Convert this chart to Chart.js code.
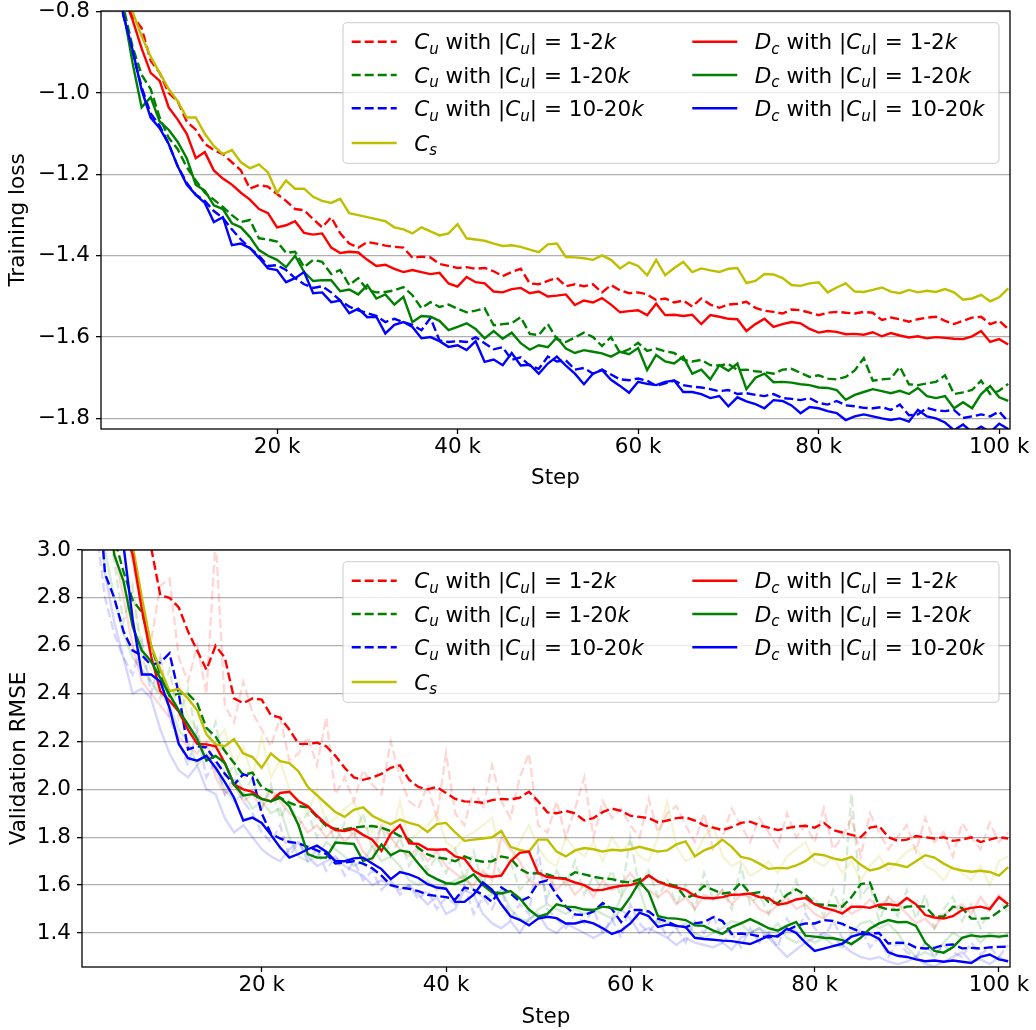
<!DOCTYPE html>
<html>
<head>
<meta charset="utf-8">
<script src="https://cdn.jsdelivr.net/npm/chart.js@4.4.1/dist/chart.umd.min.js"></script>
<style>
    html, body { margin: 0; padding: 0; background: #fff; }
    #wrap { position: relative; width: 1036px; height: 1030px; }
    canvas { position: absolute; left: 0; }
    #loss-chart { top: 0; }
    #rmse-chart { top: 520px; }
</style>
</head>
<body>
<div id="wrap">
    <canvas id="loss-chart" width="1036" height="500"></canvas>
    <canvas id="rmse-chart" width="1036" height="510"></canvas>
</div>
<script>
    "use strict";

    // training step, in thousands
    var steps = [];
    for (var s = 1; s <= 101; s++) steps.push(s);

    var stepTicks = [20, 40, 60, 80, 100];
    var lossTicks = [-1.8, -1.6, -1.4, -1.2, -1.0, -0.8];
    var rmseTicks = [1.4, 1.6, 1.8, 2.0, 2.2, 2.4, 2.6, 2.8, 3.0];

    /* ---- training loss ---- */
    var lossCu12 = [
        -0.55, -0.65, -0.74, -0.81, -0.84, -0.92, -0.95, -1.0, -1.02, -1.07,
        -1.09, -1.125, -1.14, -1.15, -1.17, -1.19, -1.235, -1.226, -1.23, -1.248,
        -1.265, -1.285, -1.288, -1.31, -1.33, -1.305, -1.345, -1.37, -1.38, -1.366,
        -1.37, -1.375, -1.378, -1.38, -1.405, -1.402, -1.404, -1.42, -1.425, -1.43,
        -1.428, -1.432, -1.43, -1.438, -1.45, -1.44, -1.432, -1.468, -1.47, -1.462,
        -1.454, -1.475, -1.47, -1.475, -1.47, -1.49, -1.472, -1.485, -1.492, -1.49,
        -1.495, -1.509, -1.505, -1.515, -1.51, -1.525, -1.505, -1.52, -1.528, -1.52,
        -1.518, -1.513, -1.528, -1.535, -1.538, -1.542, -1.532, -1.534, -1.54, -1.546,
        -1.54, -1.538, -1.54, -1.542, -1.538, -1.54, -1.558, -1.552, -1.556, -1.562,
        -1.556, -1.552, -1.55, -1.56, -1.568, -1.56, -1.552, -1.55, -1.568, -1.56, -1.58
    ];
    var lossCu120 = [
        -0.55, -0.68, -0.79, -0.886, -0.955, -0.99, -1.06, -1.11, -1.138, -1.182,
        -1.215, -1.245, -1.262, -1.28, -1.30, -1.317, -1.312, -1.357, -1.36, -1.365,
        -1.393, -1.39, -1.428, -1.41, -1.415, -1.445, -1.435, -1.472, -1.455, -1.484,
        -1.49, -1.489, -1.485, -1.477, -1.497, -1.529, -1.514, -1.526, -1.52, -1.53,
        -1.539, -1.535, -1.529, -1.571, -1.568, -1.566, -1.551, -1.592, -1.595, -1.568,
        -1.605, -1.612, -1.601, -1.589, -1.6, -1.622, -1.60, -1.639, -1.63, -1.614,
        -1.634, -1.628, -1.635, -1.639, -1.656, -1.66, -1.656, -1.669, -1.67, -1.666,
        -1.681, -1.68, -1.684, -1.686, -1.69, -1.68, -1.678, -1.688, -1.698, -1.694,
        -1.702, -1.704, -1.698, -1.682, -1.652, -1.707, -1.704, -1.702, -1.673, -1.716,
        -1.718, -1.714, -1.71, -1.694, -1.74, -1.736, -1.73, -1.707, -1.74, -1.732, -1.715
    ];
    var lossCu1020 = [
        -0.55, -0.7, -0.81, -0.9, -0.985, -1.05, -1.08, -1.125, -1.18, -1.221,
        -1.25, -1.265, -1.29, -1.307, -1.335, -1.36, -1.381, -1.40, -1.425, -1.423,
        -1.435, -1.455, -1.47, -1.479, -1.475, -1.49, -1.51, -1.525, -1.534, -1.541,
        -1.548, -1.563, -1.555, -1.563, -1.57, -1.583, -1.553, -1.608, -1.612, -1.61,
        -1.612, -1.60, -1.615, -1.63, -1.625, -1.656, -1.65, -1.67, -1.678, -1.648,
        -1.66, -1.657, -1.68, -1.676, -1.69, -1.68, -1.692, -1.704, -1.706, -1.702,
        -1.707, -1.72, -1.714, -1.707, -1.718, -1.722, -1.724, -1.728, -1.733, -1.73,
        -1.74, -1.738, -1.742, -1.745, -1.74, -1.75, -1.752, -1.755, -1.75, -1.762,
        -1.766, -1.757, -1.768, -1.77, -1.774, -1.775, -1.772, -1.779, -1.766, -1.792,
        -1.79, -1.774, -1.78, -1.782, -1.779, -1.799, -1.795, -1.79, -1.795, -1.783, -1.808
    ];
    var lossCs = [
        -0.55, -0.65, -0.73, -0.80, -0.86, -0.91, -0.95, -0.99, -1.02, -1.06,
        -1.06, -1.10, -1.13, -1.15, -1.14, -1.17, -1.185, -1.175, -1.195, -1.245,
        -1.215, -1.235, -1.235, -1.255, -1.265, -1.27, -1.26, -1.295, -1.30, -1.305,
        -1.31, -1.315, -1.33, -1.335, -1.345, -1.33, -1.34, -1.35, -1.345, -1.322,
        -1.357, -1.36, -1.363, -1.37, -1.376, -1.374, -1.378, -1.385, -1.391, -1.372,
        -1.37, -1.403, -1.404, -1.406, -1.41, -1.399, -1.41, -1.431, -1.416, -1.425,
        -1.448, -1.41, -1.448, -1.43, -1.415, -1.44, -1.431, -1.436, -1.44, -1.432,
        -1.43, -1.467, -1.462, -1.445, -1.446, -1.455, -1.472, -1.474, -1.468, -1.465,
        -1.49, -1.478, -1.468, -1.488, -1.489, -1.484, -1.478, -1.488, -1.492, -1.484,
        -1.49, -1.486, -1.489, -1.482, -1.49, -1.508, -1.505, -1.496, -1.512, -1.502, -1.48
    ];
    var lossDc12 = [
        -0.55, -0.66, -0.76, -0.82, -0.89, -0.95, -0.97, -1.035, -1.065, -1.10,
        -1.16, -1.145, -1.19, -1.21, -1.225, -1.245, -1.262, -1.285, -1.295, -1.33,
        -1.325, -1.315, -1.344, -1.348, -1.345, -1.38, -1.393, -1.39, -1.392, -1.41,
        -1.425, -1.422, -1.432, -1.44, -1.435, -1.44, -1.445, -1.442, -1.468, -1.476,
        -1.452, -1.465, -1.468, -1.488, -1.49, -1.482, -1.479, -1.492, -1.488, -1.50,
        -1.498, -1.495, -1.521, -1.51, -1.515, -1.504, -1.52, -1.539, -1.536, -1.534,
        -1.546, -1.518, -1.546, -1.545, -1.548, -1.545, -1.568, -1.546, -1.55, -1.555,
        -1.556, -1.585, -1.568, -1.555, -1.575, -1.568, -1.563, -1.566, -1.58, -1.589,
        -1.585, -1.587, -1.593, -1.592, -1.594, -1.588, -1.598, -1.59, -1.596, -1.601,
        -1.598, -1.603, -1.6, -1.602, -1.604, -1.605, -1.598, -1.585, -1.612, -1.605, -1.618
    ];
    var lossDc120 = [
        -0.55, -0.7, -0.8, -0.926, -1.035, -1.01, -1.07, -1.09, -1.12, -1.16,
        -1.225, -1.24, -1.276, -1.285, -1.32, -1.33, -1.354, -1.386, -1.40, -1.41,
        -1.428, -1.40, -1.44, -1.462, -1.46, -1.46, -1.487, -1.483, -1.495, -1.472,
        -1.505, -1.495, -1.52, -1.501, -1.563, -1.548, -1.55, -1.56, -1.583, -1.575,
        -1.566, -1.58, -1.603, -1.585, -1.604, -1.589, -1.615, -1.631, -1.62, -1.625,
        -1.601, -1.628, -1.639, -1.632, -1.636, -1.64, -1.648, -1.636, -1.642, -1.627,
        -1.681, -1.644, -1.66, -1.665, -1.648, -1.69, -1.68, -1.704, -1.669, -1.683,
        -1.665, -1.728, -1.70, -1.69, -1.711, -1.71, -1.712, -1.716, -1.718, -1.724,
        -1.725, -1.73, -1.754, -1.742, -1.735, -1.728, -1.733, -1.738, -1.732, -1.74,
        -1.725, -1.745, -1.75, -1.745, -1.775, -1.76, -1.775, -1.74, -1.72, -1.748, -1.757
    ];
    var lossDc1020 = [
        -0.55, -0.7, -0.81, -0.894, -0.992, -1.06, -1.086, -1.125, -1.18, -1.225,
        -1.25, -1.27, -1.317, -1.305, -1.374, -1.37, -1.381, -1.405, -1.431, -1.435,
        -1.465, -1.455, -1.44, -1.492, -1.49, -1.514, -1.51, -1.541, -1.53, -1.551,
        -1.55, -1.591, -1.57, -1.563, -1.575, -1.603, -1.6, -1.61, -1.624, -1.62,
        -1.632, -1.61, -1.661, -1.655, -1.669, -1.639, -1.67, -1.668, -1.69, -1.665,
        -1.648, -1.67, -1.69, -1.716, -1.69, -1.681, -1.705, -1.72, -1.737, -1.71,
        -1.715, -1.718, -1.71, -1.707, -1.735, -1.735, -1.74, -1.75, -1.745, -1.77,
        -1.748, -1.758, -1.765, -1.775, -1.755, -1.757, -1.768, -1.787, -1.772, -1.775,
        -1.782, -1.787, -1.804, -1.795, -1.79, -1.795, -1.8, -1.804, -1.8, -1.808,
        -1.779, -1.795, -1.8, -1.81, -1.829, -1.815, -1.834, -1.82, -1.834, -1.813, -1.826
    ];

    /* ---- validation RMSE, smoothed ---- */
    var rmseCu12 = [
        4.5, 4.2, 3.9, 3.6, 3.4, 3.25, 3.12, 3.01, 2.81, 2.80,
        2.76, 2.66, 2.58, 2.50, 2.60, 2.55, 2.38, 2.36, 2.38, 2.375,
        2.31, 2.30, 2.25, 2.19, 2.19, 2.195, 2.18, 2.14, 2.09, 2.05,
        2.04, 2.05, 2.065, 2.09, 2.10, 2.04, 2.01, 2.00, 2.01, 1.985,
        1.96, 1.95, 1.948, 1.944, 1.955, 1.96, 1.958, 1.965, 1.99, 1.95,
        1.904, 1.90, 1.91, 1.90, 1.87, 1.88, 1.905, 1.92, 1.91, 1.89,
        1.885, 1.88, 1.862, 1.87, 1.88, 1.883, 1.87, 1.85, 1.84, 1.83,
        1.842, 1.86, 1.865, 1.85, 1.84, 1.83, 1.838, 1.845, 1.848, 1.84,
        1.86, 1.83, 1.82, 1.81, 1.80, 1.84, 1.847, 1.80, 1.785, 1.79,
        1.805, 1.80, 1.795, 1.80, 1.785, 1.79, 1.80, 1.78, 1.79, 1.80, 1.795
    ];
    var rmseCu120 = [
        4.6, 4.0, 3.5, 3.05, 2.91, 2.79, 2.74, 2.60, 2.48, 2.39,
        2.40, 2.40, 2.36, 2.257, 2.22, 2.16, 2.11, 2.06, 2.07, 2.01,
        1.99, 1.965, 1.945, 1.93, 1.925, 1.885, 1.847, 1.835, 1.833, 1.84,
        1.845, 1.847, 1.84, 1.826, 1.805, 1.79, 1.755, 1.728, 1.715, 1.71,
        1.70, 1.72, 1.705, 1.698, 1.70, 1.72, 1.712, 1.668, 1.648, 1.65,
        1.645, 1.632, 1.628, 1.654, 1.645, 1.635, 1.628, 1.625, 1.615, 1.611,
        1.625, 1.64, 1.615, 1.605, 1.597, 1.546, 1.56, 1.597, 1.58, 1.565,
        1.57, 1.611, 1.565, 1.57, 1.53, 1.525, 1.56, 1.582, 1.56, 1.52,
        1.518, 1.515, 1.51, 1.55, 1.604, 1.611, 1.51, 1.498, 1.496, 1.51,
        1.512, 1.51, 1.47, 1.468, 1.51, 1.505, 1.46, 1.46, 1.462, 1.49, 1.518
    ];
    var rmseCu1020 = [
        4.3, 3.4, 2.9, 2.80, 2.66, 2.58, 2.56, 2.52, 2.53, 2.569,
        2.40, 2.167, 2.18, 2.175, 2.12, 2.065, 2.02, 2.063, 2.05, 1.90,
        1.815, 1.795, 1.78, 1.775, 1.76, 1.745, 1.73, 1.69, 1.695, 1.70,
        1.69, 1.67, 1.64, 1.60, 1.59, 1.585, 1.575, 1.56, 1.555, 1.55,
        1.54, 1.59, 1.58, 1.56, 1.53, 1.59, 1.565, 1.532, 1.55, 1.61,
        1.62, 1.56, 1.51, 1.478, 1.475, 1.49, 1.525, 1.50, 1.446, 1.496,
        1.496, 1.49, 1.46, 1.448, 1.43, 1.424, 1.44, 1.446, 1.466, 1.45,
        1.396, 1.398, 1.394, 1.386, 1.382, 1.389, 1.41, 1.43, 1.44, 1.44,
        1.454, 1.45, 1.438, 1.42, 1.405, 1.398, 1.40, 1.356, 1.36, 1.358,
        1.339, 1.335, 1.338, 1.35, 1.352, 1.336, 1.338, 1.335, 1.34, 1.342, 1.343
    ];
    var rmseCs = [
        4.8, 4.3, 3.9, 3.5, 3.2, 3.02, 2.80, 2.60, 2.50, 2.41,
        2.42, 2.38, 2.33, 2.23, 2.188, 2.18, 2.21, 2.15, 2.135, 2.09,
        2.15, 2.118, 2.11, 2.075, 2.01, 1.975, 1.94, 1.905, 1.885, 1.915,
        1.925, 1.89, 1.87, 1.855, 1.874, 1.86, 1.85, 1.822, 1.855, 1.86,
        1.82, 1.785, 1.79, 1.795, 1.80, 1.826, 1.76, 1.747, 1.74, 1.79,
        1.79, 1.74, 1.72, 1.745, 1.755, 1.75, 1.74, 1.748, 1.745, 1.75,
        1.76, 1.75, 1.74, 1.745, 1.77, 1.783, 1.72, 1.745, 1.76, 1.79,
        1.76, 1.718, 1.71, 1.69, 1.668, 1.672, 1.67, 1.682, 1.70, 1.73,
        1.725, 1.712, 1.704, 1.718, 1.685, 1.661, 1.67, 1.69, 1.685, 1.675,
        1.70, 1.725, 1.715, 1.69, 1.67, 1.661, 1.656, 1.66, 1.655, 1.64, 1.675
    ];
    var rmseDc12 = [
        4.5, 4.0, 3.6, 3.3, 3.1, 2.98, 2.75, 2.556, 2.41, 2.37,
        2.325, 2.25, 2.19, 2.188, 2.18, 2.11, 2.02, 2.0, 1.99, 1.96,
        1.95, 1.985, 1.99, 1.95, 1.93, 1.89, 1.854, 1.83, 1.826, 1.835,
        1.81, 1.79, 1.743, 1.815, 1.85, 1.775, 1.772, 1.75, 1.748, 1.75,
        1.72, 1.71, 1.66, 1.639, 1.635, 1.64, 1.70, 1.735, 1.74, 1.65,
        1.634, 1.63, 1.625, 1.611, 1.60, 1.578, 1.58, 1.59, 1.597, 1.60,
        1.611, 1.64, 1.615, 1.60, 1.59, 1.58, 1.555, 1.546, 1.545, 1.55,
        1.56, 1.561, 1.565, 1.55, 1.546, 1.518, 1.525, 1.54, 1.546, 1.52,
        1.505, 1.496, 1.482, 1.51, 1.51, 1.505, 1.518, 1.52, 1.515, 1.546,
        1.52, 1.475, 1.465, 1.46, 1.47, 1.496, 1.505, 1.51, 1.50, 1.55, 1.52
    ];
    var rmseDc120 = [
        4.5, 3.9, 3.3, 2.98, 2.87, 2.68, 2.58, 2.535, 2.465, 2.396,
        2.33, 2.271, 2.21, 2.12, 2.14, 2.11, 2.02, 1.975, 1.98, 1.96,
        1.95, 1.965, 1.93, 1.85, 1.73, 1.715, 1.715, 1.778, 1.775, 1.772,
        1.701, 1.712, 1.77, 1.725, 1.745, 1.738, 1.69, 1.645, 1.625, 1.608,
        1.605, 1.62, 1.645, 1.60, 1.57, 1.565, 1.575, 1.545, 1.498, 1.468,
        1.48, 1.52, 1.51, 1.508, 1.498, 1.496, 1.51, 1.505, 1.496, 1.55,
        1.615, 1.57, 1.47, 1.462, 1.46, 1.454, 1.432, 1.43, 1.41, 1.396,
        1.425, 1.44, 1.458, 1.44, 1.42, 1.41, 1.43, 1.446, 1.389, 1.385,
        1.38, 1.378, 1.37, 1.354, 1.38, 1.418, 1.44, 1.454, 1.445, 1.446,
        1.43, 1.36, 1.325, 1.318, 1.34, 1.38, 1.39, 1.385, 1.388, 1.385, 1.389
    ];
    var rmseDc1020 = [
        4.5, 4.0, 3.6, 3.25, 3.02, 2.71, 2.48, 2.48, 2.45, 2.34,
        2.19, 2.13, 2.12, 2.14, 2.09, 2.03, 1.965, 1.87, 1.882, 1.86,
        1.81, 1.757, 1.715, 1.73, 1.75, 1.765, 1.74, 1.70, 1.70, 1.712,
        1.715, 1.69, 1.667, 1.625, 1.655, 1.645, 1.63, 1.604, 1.59, 1.585,
        1.53, 1.53, 1.56, 1.611, 1.58, 1.52, 1.47, 1.455, 1.432, 1.46,
        1.468, 1.462, 1.44, 1.44, 1.45, 1.44, 1.42, 1.396, 1.41, 1.44,
        1.485, 1.47, 1.425, 1.435, 1.43, 1.425, 1.38, 1.375, 1.372, 1.368,
        1.366, 1.36, 1.354, 1.37, 1.389, 1.385, 1.418, 1.40, 1.36, 1.325,
        1.335, 1.345, 1.355, 1.385, 1.396, 1.395, 1.375, 1.32, 1.305, 1.30,
        1.29, 1.282, 1.285, 1.28, 1.285, 1.28, 1.275, 1.30, 1.31, 1.29, 1.282
    ];

    /* ---- validation RMSE, raw ---- */
    var rawCu12 = [
        4.6, 4.0, 3.6, 3.3, 3.1, 2.95, 2.75, 2.62, 2.85, 2.88,
        2.55, 2.45, 2.60, 2.40, 3.05, 2.35, 2.28, 2.45, 2.32, 2.25,
        2.18, 2.30, 2.12, 2.15, 2.22, 2.10, 2.30, 1.98, 2.05, 1.95,
        2.08, 2.02, 1.98, 2.20, 2.05, 1.95, 1.92, 2.02, 1.88, 2.15,
        1.90, 1.85, 2.0, 1.92, 2.1, 1.95, 1.88, 2.05, 2.15, 1.85,
        1.82, 1.95, 1.80, 1.92, 2.05, 1.80, 1.95, 1.88, 1.92, 1.85,
        1.80, 1.96, 1.82, 1.90, 1.93, 1.85, 1.78, 1.90, 1.75, 1.80,
        1.92, 1.85, 1.78, 1.88, 1.82, 1.76, 1.90, 1.80, 1.85, 1.78,
        1.92, 1.75, 1.80, 1.88, 1.72, 1.90, 1.82, 1.75, 1.80, 1.85,
        1.74, 1.88, 1.78, 1.82, 1.72, 1.86, 1.80, 1.75, 1.86, 1.78, 1.82
    ];
    var rawCu120 = [
        4.5, 3.8, 3.2, 2.95, 2.7, 2.85, 2.55, 2.45, 2.38, 2.5,
        2.3, 2.42, 2.2, 2.18, 2.28, 2.05, 2.10, 1.98, 2.05, 1.92,
        2.02, 1.88, 1.95, 1.85, 1.90, 1.80, 1.88, 1.78, 1.86, 1.80,
        1.90, 1.75, 1.85, 1.72, 1.80, 1.68, 1.75, 1.66, 1.72, 1.65,
        1.75, 1.62, 1.74, 1.60, 1.72, 1.64, 1.70, 1.58, 1.62, 1.68,
        1.55, 1.66, 1.60, 1.70, 1.56, 1.64, 1.58, 1.66, 1.55, 1.80,
        1.58, 1.66, 1.55, 1.62, 1.52, 1.60, 1.50, 1.65, 1.54, 1.58,
        1.50, 1.68, 1.52, 1.56, 1.48, 1.60, 1.52, 1.62, 1.50, 1.55,
        1.47, 1.58, 1.48, 1.98, 1.55, 1.60, 1.45, 1.55, 1.47, 1.58,
        1.46, 1.56, 1.42, 1.50, 1.55, 1.45, 1.52, 1.42, 1.50, 1.55, 1.48
    ];
    var rawCu1020 = [
        4.0, 3.1, 2.8, 2.65, 2.55, 2.48, 2.62, 2.40, 2.55, 2.30,
        2.20, 2.10, 2.25, 2.05, 2.12, 1.98, 2.05, 1.95, 1.90, 1.82,
        1.78, 1.85, 1.72, 1.78, 1.70, 1.75, 1.66, 1.72, 1.64, 1.70,
        1.62, 1.66, 1.58, 1.62, 1.56, 1.60, 1.54, 1.58, 1.50, 1.55,
        1.52, 1.60, 1.48, 1.55, 1.50, 1.58, 1.46, 1.52, 1.48, 1.75,
        1.50, 1.46, 1.42, 1.48, 1.44, 1.50, 1.40, 1.46, 1.38, 1.52,
        1.44, 1.40, 1.46, 1.38, 1.42, 1.36, 1.45, 1.40, 1.48, 1.36,
        1.40, 1.34, 1.42, 1.36, 1.40, 1.34, 1.46, 1.40, 1.48, 1.42,
        1.38, 1.45, 1.38, 1.35, 1.42, 1.34, 1.38, 1.30, 1.36, 1.32,
        1.30, 1.36, 1.30, 1.35, 1.32, 1.30, 1.36, 1.31, 1.34, 1.30, 1.35
    ];
    var rawCs = [
        4.8, 4.2, 3.7, 3.3, 3.0, 2.8, 2.6, 2.5, 2.55, 2.35,
        2.45, 2.30, 2.25, 2.12, 2.20, 2.25, 2.10, 2.18, 2.05, 2.22,
        2.05, 2.12, 2.0, 1.95, 1.90, 2.0, 1.85, 1.88, 1.92, 1.95,
        1.85, 1.82, 1.88, 1.80, 1.95, 1.78, 1.82, 1.85, 1.90, 1.78,
        1.75, 1.80, 1.82, 1.85, 1.88, 1.72, 1.70, 1.78, 1.85, 1.76,
        1.70, 1.68, 1.80, 1.75, 1.72, 1.78, 1.70, 1.80, 1.74, 1.78,
        1.72, 1.70, 1.80, 1.95, 1.76, 1.70, 1.72, 1.80, 1.85, 1.72,
        1.68, 1.70, 1.64, 1.66, 1.70, 1.65, 1.72, 1.75, 1.78, 1.70,
        1.68, 1.72, 1.65, 1.70, 1.62, 1.68, 1.72, 1.66, 1.70, 1.74,
        1.76, 1.68, 1.66, 1.62, 1.68, 1.65, 1.62, 1.68, 1.60, 1.70, 1.72
    ];
    var rawDc12 = [
        4.4, 3.8, 3.3, 3.0, 2.8, 2.6, 2.45, 2.40, 2.35, 2.30,
        2.22, 2.18, 2.15, 2.20, 2.05, 1.98, 2.02, 1.95, 1.98, 1.92,
        2.00, 1.95, 1.90, 1.88, 1.82, 1.85, 1.80, 1.84, 1.78, 1.82,
        1.74, 1.70, 1.85, 1.80, 1.75, 1.72, 1.76, 1.70, 1.74, 1.68,
        1.65, 1.62, 1.60, 1.66, 1.62, 1.80, 1.75, 1.70, 1.62, 1.60,
        1.64, 1.58, 1.62, 1.56, 1.60, 1.55, 1.62, 1.58, 1.60, 1.65,
        1.60, 1.58, 1.55, 1.58, 1.52, 1.55, 1.50, 1.56, 1.54, 1.58,
        1.52, 1.56, 1.55, 1.50, 1.48, 1.52, 1.55, 1.50, 1.52, 1.48,
        1.46, 1.50, 1.52, 1.48, 1.50, 1.54, 1.50, 1.55, 1.52, 1.48,
        1.44, 1.46, 1.42, 1.48, 1.50, 1.52, 1.48, 1.55, 1.50, 1.56, 1.52
    ];
    var rawDc120 = [
        4.2, 3.5, 3.0, 2.8, 2.65, 2.55, 2.50, 2.45, 2.40, 2.35,
        2.25, 2.20, 2.10, 2.15, 2.08, 2.0, 1.95, 1.98, 1.92, 1.95,
        1.90, 1.92, 1.80, 1.72, 1.70, 1.72, 1.78, 1.75, 1.72, 1.68,
        1.70, 1.76, 1.70, 1.72, 1.68, 1.62, 1.60, 1.62, 1.58, 1.60,
        1.62, 1.64, 1.58, 1.55, 1.56, 1.58, 1.50, 1.46, 1.45, 1.50,
        1.52, 1.50, 1.48, 1.50, 1.48, 1.50, 1.48, 1.46, 1.55, 1.62,
        1.58, 1.46, 1.44, 1.45, 1.42, 1.44, 1.40, 1.38, 1.40, 1.42,
        1.45, 1.44, 1.40, 1.42, 1.40, 1.44, 1.38, 1.36, 1.38, 1.36,
        1.38, 1.35, 1.34, 1.40, 1.44, 1.45, 1.42, 1.44, 1.40, 1.34,
        1.30, 1.32, 1.30, 1.36, 1.40, 1.38, 1.40, 1.36, 1.40, 1.38, 1.40
    ];
    var rawDc1020 = [
        4.0, 3.4, 2.9, 2.7, 2.55, 2.40, 2.42, 2.38, 2.25, 2.15,
        2.08, 2.05, 2.10, 2.0, 1.98, 1.88, 1.82, 1.85, 1.80, 1.75,
        1.72, 1.70, 1.75, 1.78, 1.72, 1.68, 1.70, 1.72, 1.68, 1.66,
        1.64, 1.60, 1.62, 1.60, 1.58, 1.60, 1.56, 1.52, 1.55, 1.48,
        1.50, 1.58, 1.56, 1.48, 1.44, 1.42, 1.45, 1.40, 1.46, 1.48,
        1.42, 1.40, 1.44, 1.42, 1.40, 1.38, 1.40, 1.45, 1.50, 1.46,
        1.40, 1.42, 1.40, 1.38, 1.35, 1.38, 1.36, 1.35, 1.34, 1.36,
        1.33, 1.38, 1.40, 1.42, 1.38, 1.34, 1.30, 1.33, 1.36, 1.38,
        1.40, 1.38, 1.35, 1.32, 1.30, 1.29, 1.30, 1.28, 1.27, 1.28,
        1.30, 1.27, 1.26, 1.28, 1.30, 1.32, 1.28, 1.29, 1.27, 1.30, 1.28
    ];

    var RED = "#ff0000", GREEN = "#008000", BLUE = "#0000ff", OLIVE = "#bfbf00";

    function hexToRGB(hex, alpha) {
        var r = parseInt(hex.slice(1, 3), 16), g = parseInt(hex.slice(3, 5), 16), b = parseInt(hex.slice(5, 7), 16);
        return "rgba(" + r + ", " + g + ", " + b + ", " + alpha + ")";
    }

    function points(vals) {
        return vals.map(function (v, i) { return {x: steps[i], y: v}; });
    }

    // label pieces: [text, style] where style is it / sub / rm
    function rangeLabel(base, sub, range) {
        return [[base, "it"], [sub, "sub"], [" with |", "rm"], ["C", "it"], ["u", "sub"], ["| = " + range, "rm"], ["k", "it"]];
    }

    var entries = [
        {color: RED, dashed: true, parts: rangeLabel("C", "u", "1-2")},
        {color: GREEN, dashed: true, parts: rangeLabel("C", "u", "1-20")},
        {color: BLUE, dashed: true, parts: rangeLabel("C", "u", "10-20")},
        {color: OLIVE, dashed: false, parts: [["C", "it"], ["s", "sub"]]},
        {color: RED, dashed: false, parts: rangeLabel("D", "c", "1-2")},
        {color: GREEN, dashed: false, parts: rangeLabel("D", "c", "1-20")},
        {color: BLUE, dashed: false, parts: rangeLabel("D", "c", "10-20")}
    ];

    var LW = 2.4, DASH = [9, 4], FS = 21.5, FAMILY = '"DejaVu Sans"';

    function lineSet(vals, entry, idx, faint) {
        return {
            data: points(vals),
            borderColor: faint ? hexToRGB(entry.color, 0.16) : entry.color,
            borderWidth: LW,
            borderDash: entry.dashed ? DASH : [],
            pointRadius: 0,
            tension: 0,
            fill: false,
            clip: 0,
            order: faint ? 100 + idx : 10 - idx
        };
    }

    function drawParts(ctx, parts, x, y) {
        parts.forEach(function (p) {
            var sub = p[1] === "sub";
            var size = sub ? FS * 0.7 : FS;
            ctx.font = (p[1] === "rm" ? "" : "italic ") + size + "px " + FAMILY;
            ctx.fillText(p[0], x, sub ? y + FS * 0.22 : y);
            x += ctx.measureText(p[0]).width;
        });
    }

    // all four spines
    var frame = {
        id: "frame",
        afterDraw: function (chart) {
            var ctx = chart.ctx, a = chart.chartArea;
            ctx.save();
            ctx.strokeStyle = "#000";
            ctx.lineWidth = 1.3;
            ctx.strokeRect(a.left, a.top, a.right - a.left, a.bottom - a.top);
            ctx.restore();
        }
    };

    // two-column legend in the upper right corner of the plot
    var mathLegend = {
        id: "mathLegend",
        afterDraw: function (chart) {
            var ctx = chart.ctx, a = chart.chartArea;
            var w = 656, h = 140.6;
            var left = a.right - 11 - w, top = a.top + 11.7, r = 4;
            ctx.save();
            ctx.beginPath();
            ctx.moveTo(left + r, top);
            ctx.arcTo(left + w, top, left + w, top + h, r);
            ctx.arcTo(left + w, top + h, left, top + h, r);
            ctx.arcTo(left, top + h, left, top, r);
            ctx.arcTo(left, top, left + w, top, r);
            ctx.closePath();
            ctx.fillStyle = "rgba(255, 255, 255, 0.8)";
            ctx.fill();
            ctx.strokeStyle = "rgba(204, 204, 204, 0.8)";
            ctx.lineWidth = 1.3;
            ctx.stroke();

            var rows = [19, 52.3, 85.6, 120.3];
            entries.forEach(function (e, i) {
                var col = i < 4 ? 0 : 1, row = i < 4 ? i : i - 4;
                var hx = left + (col ? 349.3 : 8.7), y = top + rows[row];
                ctx.beginPath();
                ctx.setLineDash(e.dashed ? DASH : []);
                ctx.strokeStyle = e.color;
                ctx.lineWidth = LW;
                ctx.moveTo(hx, y);
                ctx.lineTo(hx + 45, y);
                ctx.stroke();
                ctx.setLineDash([]);
                ctx.fillStyle = "#000";
                ctx.textBaseline = "alphabetic";
                drawParts(ctx, e.parts, hx + 62.5, y + 7.6);
            });
            ctx.restore();
        }
    };

    function makeChart(id, datasets, o) {
        var ctx = document.getElementById(id).getContext("2d");
        return new Chart(ctx, {
            type: "line",
            data: {datasets: datasets},
            options: {
                responsive: false, animation: false, events: [],
                layout: {padding: {top: o.padTop, right: 26, left: 0, bottom: 0}},
                plugins: {legend: {display: false}, tooltip: {enabled: false}},
                scales: {
                    x: {
                        type: "linear", min: 0.5, max: 101.2,
                        border: {display: false},
                        grid: {drawOnChartArea: false, tickLength: 5, tickColor: "#000", tickWidth: 1.3},
                        ticks: {
                            autoSkip: false, maxRotation: 0, padding: 3, color: "#000",
                            font: {size: FS, lineHeight: 1.0},
                            callback: function (v) { return v + " k"; }
                        },
                        afterBuildTicks: function (s) { s.ticks = stepTicks.map(function (v) { return {value: v}; }); },
                        afterFit: function (s) { s.height = o.xHeight; s.paddingLeft = 0; s.paddingRight = 0; },
                        title: {display: true, text: "Step", color: "#000", font: {size: FS}, padding: {top: 0, bottom: o.stepPad}}
                    },
                    y: {
                        type: "linear", min: o.yMin, max: o.yMax,
                        border: {display: false},
                        grid: {color: "#b0b0b0", lineWidth: 1.3, tickLength: 5, tickColor: "#000", tickWidth: 1.3},
                        ticks: {
                            padding: 6, color: "#000",
                            font: {size: FS, lineHeight: 1.0},
                            callback: function (v) { return (v < 0 ? "\u2212" : "") + Math.abs(v).toFixed(1); }
                        },
                        afterBuildTicks: function (s) { s.ticks = o.yTicks.map(function (v) { return {value: v}; }); },
                        afterFit: function (s) { s.width = o.yWidth; s.paddingTop = 0; s.paddingBottom = 0; },
                        title: {display: true, text: o.yTitle, color: "#000", font: {size: FS}, padding: {top: o.titlePad, bottom: 0}}
                    }
                }
            },
            plugins: [frame, mathLegend]
        });
    }

    var lossSeries = [lossCu12, lossCu120, lossCu1020, lossCs, lossDc12, lossDc120, lossDc1020];
    var rmseSeries = [rmseCu12, rmseCu120, rmseCu1020, rmseCs, rmseDc12, rmseDc120, rmseDc1020];
    var rawSeries = [rawCu12, rawCu120, rawCu1020, rawCs, rawDc12, rawDc120, rawDc1020];

    var lossSets = lossSeries.map(function (vals, i) { return lineSet(vals, entries[i], i, false); });
    var rmseSets = rawSeries.map(function (vals, i) { return lineSet(vals, entries[i], i, true); })
        .concat(rmseSeries.map(function (vals, i) { return lineSet(vals, entries[i], i, false); }));

    Chart.defaults.font.family = FAMILY;
    Chart.defaults.color = "#000";

    makeChart("loss-chart", lossSets, {
        padTop: 11, xHeight: 71, yWidth: 101, stepPad: 9, titlePad: 6,
        yMin: -1.826, yMax: -0.798, yTicks: lossTicks, yTitle: "Training loss"
    });
    makeChart("rmse-chart", rmseSets, {
        padTop: 30, xHeight: 63, yWidth: 82, stepPad: 0, titlePad: 7,
        yMin: 1.258, yMax: 3.0, yTicks: rmseTicks, yTitle: "Validation RMSE"
    });
</script>
</body>
</html>
